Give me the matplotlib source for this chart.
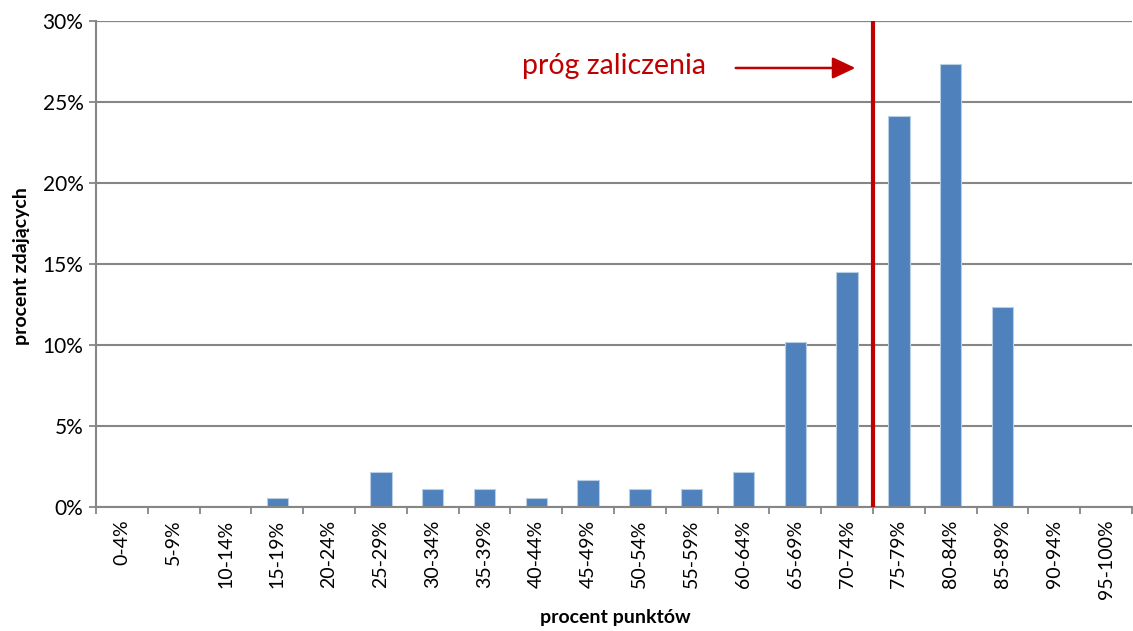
import matplotlib
matplotlib.use("Agg")
import matplotlib.pyplot as plt
from matplotlib.ticker import FuncFormatter, FixedLocator, NullFormatter

categories = ["0-4%", "5-9%", "10-14%", "15-19%", "20-24%", "25-29%", "30-34%",
              "35-39%", "40-44%", "45-49%", "50-54%", "55-59%", "60-64%", "65-69%",
              "70-74%", "75-79%", "80-84%", "85-89%", "90-94%", "95-100%"]
values = [0, 0, 0, 0.55, 0, 2.18, 1.09, 1.09, 0.55, 1.65, 1.09, 1.09, 2.18,
          10.2, 14.5, 24.15, 27.36, 12.36, 0, 0]
y_ticks = [0, 5, 10, 15, 20, 25, 30]
threshold_pos = 14.5
annotation_text = "próg zaliczenia"

plt.rcParams['font.family'] = ['Lato', 'DejaVu Sans']

W, H = 1133, 631
fig = plt.figure(figsize=(W / 100, H / 100), dpi=100)
ax = fig.add_axes([96/W, 124/H, 1036/W, 486/H])

x = list(range(len(categories)))
ax.bar(x, values, width=0.41, color="#4F81BD", edgecolor="#B9CDE5", linewidth=0.8, zorder=3)

ax.set_xlim(-0.5, len(categories) - 0.5)
ax.set_ylim(0, 30)
ax.set_yticks(y_ticks)
ax.yaxis.set_major_formatter(FuncFormatter(lambda v, p: f"{int(v)}%"))
ax.grid(axis='y', color="#868686", linewidth=1.5, zorder=0)
ax.axhline(30, color="black", linewidth=1.5, zorder=1)

ax.xaxis.set_major_locator(FixedLocator([i - 0.5 for i in range(len(categories) + 1)]))
ax.xaxis.set_major_formatter(NullFormatter())
ax.xaxis.set_minor_locator(FixedLocator(x))
ax.set_xticklabels(categories, minor=True, rotation=90, fontsize=14, va='top')
ax.tick_params(axis='x', which='minor', length=0, pad=9)
ax.tick_params(axis='x', which='major', length=5, width=1.3, color="#868686", direction='out')
ax.tick_params(axis='y', length=5, width=1.3, color="#868686", labelsize=15, pad=4)

for s in ['top', 'right']:
    ax.spines[s].set_visible(False)
for s in ['left', 'bottom']:
    ax.spines[s].set_color("#868686")
    ax.spines[s].set_linewidth(1.5)
    ax.spines[s].set_zorder(4)

ax.axvline(threshold_pos, color="#C00000", linewidth=3, zorder=5, ymin=0, ymax=1.0)

ax.annotate("", xy=(14.16, 27.1), xytext=(11.85, 27.1),
            arrowprops=dict(arrowstyle="-|>,head_length=0.7,head_width=0.33", mutation_scale=20,
                            color="#C00000", lw=1.8, shrinkA=0, shrinkB=0),
            zorder=6)
ax.text(7.72, 27.2, annotation_text, color="#C00000", fontsize=20.5, va='center', ha='left', zorder=6)

fig.text(22/W, 1 - 266/H, "procent zdających", fontsize=14, fontweight='bold',
         rotation=90, ha='center', va='center')
fig.text(615/W, 1 - 618/H, "procent punktów", fontsize=14, fontweight='bold',
         ha='center', va='center')

fig.savefig("out.png", dpi=100, facecolor="white")
